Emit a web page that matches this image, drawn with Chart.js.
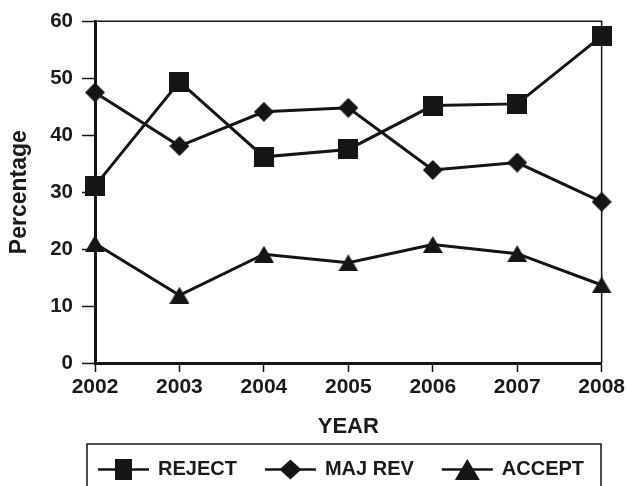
<!DOCTYPE html>
<html>
<head>
<meta charset="utf-8">
<title>Decisions by year</title>
<script src="https://cdn.jsdelivr.net/npm/chart.js@4.4.0/dist/chart.umd.min.js"></script>
<style>
  html, body { margin: 0; padding: 0; background: #fff; }
</style>
</head>
<body>
<canvas id="decisionChart" width="628" height="486"></canvas>
<script>
const years = ["2002", "2003", "2004", "2005", "2006", "2007", "2008"];
const reject = [31.1, 49.4, 36.2, 37.5, 45.2, 45.5, 57.4];
const majRev = [47.5, 38.1, 44.1, 44.8, 33.9, 35.2, 28.3];
const accept = [21.0, 11.9, 19.1, 17.6, 20.8, 19.2, 13.7];
const yTicks = [0, 10, 20, 30, 40, 50, 60];

const INK = "#151515";
const TEXT = "#1a1a1a";
const FONT = "'Liberation Sans', Arial, Helvetica, sans-serif";

// filled marker shapes, centred on their bounding box (like the original)
function drawMarker(ctx, kind, cx, cy, w, h) {
  ctx.fillStyle = INK;
  ctx.beginPath();
  if (kind === "square") {
    ctx.rect(cx - w / 2, cy - h / 2, w, h);
  } else if (kind === "diamond") {
    ctx.moveTo(cx, cy - h / 2);
    ctx.lineTo(cx + w / 2, cy);
    ctx.lineTo(cx, cy + h / 2);
    ctx.lineTo(cx - w / 2, cy);
  } else {
    ctx.moveTo(cx, cy - h / 2);
    ctx.lineTo(cx + w / 2, cy + h / 2);
    ctx.lineTo(cx - w / 2, cy + h / 2);
  }
  ctx.closePath();
  ctx.fill();
}

function markerCanvas(kind, w, h) {
  const c = document.createElement("canvas");
  c.width = w;
  c.height = h;
  drawMarker(c.getContext("2d"), kind, w / 2, h / 2, w, h);
  return c;
}

const legendSizes = { square: [17, 21], diamond: [22, 20], triangle: [25, 21] };

// top and right edges of the plot frame
const frame = {
  id: "frame",
  beforeDatasetsDraw(chart) {
    const { ctx, chartArea: a } = chart;
    ctx.save();
    ctx.strokeStyle = INK;
    ctx.lineWidth = 1.5;
    ctx.beginPath();
    ctx.moveTo(a.left, a.top);
    ctx.lineTo(a.right, a.top);
    ctx.lineTo(a.right, a.bottom);
    ctx.stroke();
    ctx.restore();
  },
};

// boxed legend: line + marker + label for each series
const boxLegend = {
  id: "boxLegend",
  afterDraw(chart) {
    const ctx = chart.ctx;
    ctx.save();
    ctx.strokeStyle = INK;
    ctx.lineWidth = 1.5;
    ctx.strokeRect(87, 444, 514, 60);
    ctx.font = "bold 20px " + FONT;
    ctx.textBaseline = "middle";
    let x = 98;
    const y = 469.5;
    chart.data.datasets.forEach((ds) => {
      ctx.strokeStyle = INK;
      ctx.lineWidth = 2.5;
      ctx.beginPath();
      ctx.moveTo(x, y);
      ctx.lineTo(x + 51, y);
      ctx.stroke();
      const [w, h] = legendSizes[ds.marker];
      drawMarker(ctx, ds.marker, x + 25.5, y, w, h);
      ctx.fillStyle = TEXT;
      ctx.fillText(ds.label, x + 60, y);
      x += 60 + ctx.measureText(ds.label).width + 28;
    });
    ctx.restore();
  },
};

function series(label, data, marker, w, h) {
  return {
    label: label,
    data: data,
    marker: marker,
    borderColor: INK,
    backgroundColor: INK,
    borderWidth: 3,
    tension: 0,
    pointStyle: markerCanvas(marker, w, h),
    pointRadius: 10,
  };
}

new Chart(document.getElementById("decisionChart"), {
  type: "line",
  data: {
    labels: years,
    datasets: [
      series("REJECT", reject, "square", 20, 20),
      series("MAJ REV", majRev, "diamond", 20, 20),
      series("ACCEPT", accept, "triangle", 20, 17),
    ],
  },
  options: {
    responsive: false,
    animation: false,
    layout: { padding: { top: 20, right: 23, bottom: 0, left: 0 } },
    plugins: {
      legend: { display: false },
      tooltip: { enabled: false },
    },
    scales: {
      x: {
        offset: false,
        grid: { drawOnChartArea: false, drawTicks: true, tickLength: 9, tickColor: INK, tickWidth: 1.5 },
        border: { color: INK, width: 3 },
        ticks: { color: TEXT, padding: 3, maxRotation: 0, autoSkip: false, font: { family: FONT, size: 21, weight: "bold" } },
        title: { display: true, text: "YEAR", color: TEXT, padding: { top: 0, bottom: 46 }, font: { family: FONT, size: 22, weight: "bold" } },
        afterFit(scale) { scale.height = 123; },
      },
      y: {
        min: 0,
        max: 60,
        grid: { drawOnChartArea: false, drawTicks: true, tickLength: 13, tickColor: INK, tickWidth: 1.5 },
        border: { color: INK, width: 3 },
        ticks: { color: TEXT, padding: 9, font: { family: FONT, size: 20.5, weight: "bold" } },
        afterBuildTicks(scale) { scale.ticks = yTicks.map((v) => ({ value: v })); },
        title: { display: true, text: "Percentage", color: TEXT, padding: { top: 6, bottom: 0 }, font: { family: FONT, size: 23, weight: "bold" } },
        afterFit(scale) { scale.width = 95; },
      },
    },
  },
  plugins: [frame, boxLegend],
});
</script>
</body>
</html>
